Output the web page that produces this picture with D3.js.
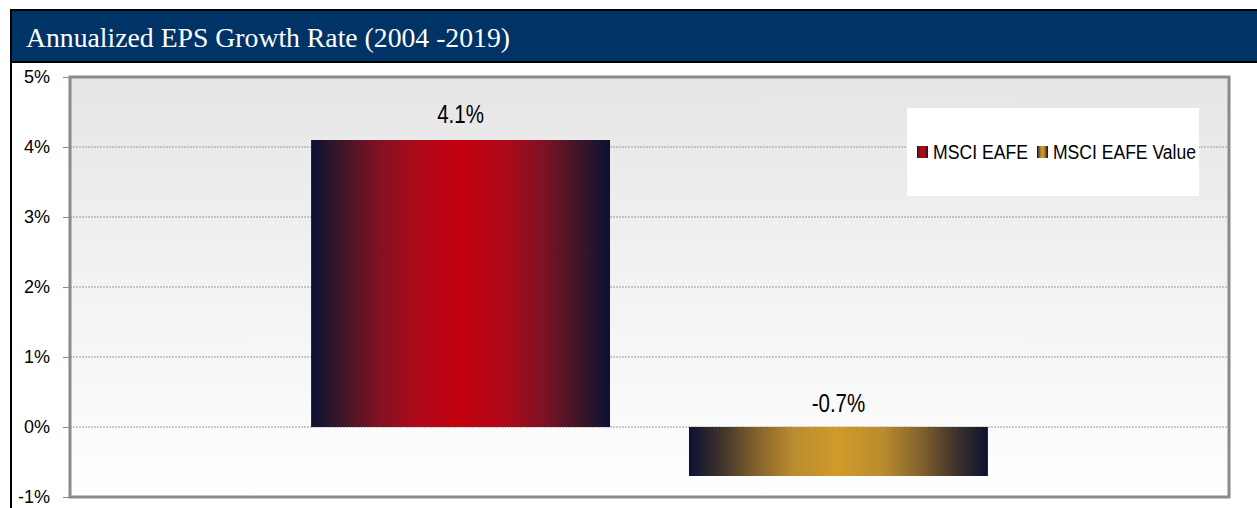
<!DOCTYPE html>
<html>
<head>
<meta charset="utf-8">
<script src="https://cdn.jsdelivr.net/npm/d3@7"></script>
<style>
  body { margin: 0; background: #fff; }
  svg { display: block; }
</style>
</head>
<body>
<svg id="chart" width="1257" height="508"></svg>
<script>
const title = "Annualized EPS Growth Rate (2004 -2019)";
const seriesNames = ["MSCI EAFE", "MSCI EAFE Value"];
const seriesValues = [4.1, -0.7];
const valueLabels = ["4.1%", "-0.7%"];
const yTicks = [-1, 0, 1, 2, 3, 4, 5];

const svg = d3.select("#chart");
const defs = svg.append("defs");

// plot area
const plot = { left: 70, right: 1229, top: 77, bottom: 497 };

// background gradient for the plot
const bg = defs.append("linearGradient").attr("id", "bgGrad")
  .attr("x1", 0).attr("y1", 0).attr("x2", 0).attr("y2", 1);
bg.append("stop").attr("offset", "0%").attr("stop-color", "#e6e6e6");
bg.append("stop").attr("offset", "100%").attr("stop-color", "#ffffff");

// bar gradients: dark edges, coloured middle
function barGradient(id, cols) {
  const g = defs.append("linearGradient").attr("id", id)
    .attr("x1", 0).attr("y1", 0).attr("x2", 1).attr("y2", 0);
  const offs = [0, 0.1, 0.22, 0.35, 0.5, 0.65, 0.78, 0.9, 1];
  const full = cols.concat(cols.slice(0, -1).reverse());
  offs.forEach((o, i) => g.append("stop").attr("offset", o).attr("stop-color", full[i]));
}
barGradient("redGrad", ["#0a1232", "#3c1628", "#7c1224", "#ae0a1a", "#c40010"]);
barGradient("goldGrad", ["#0a1232", "#3c302c", "#80602c", "#ba8c2e", "#d19a2a"]);
const fills = ["url(#redGrad)", "url(#goldGrad)"];

// title bar
svg.append("rect")
  .attr("x", 11).attr("y", 10).attr("width", 1250).attr("height", 52)
  .attr("fill", "#003366").attr("stroke", "#000").attr("stroke-width", 2);
svg.append("text")
  .attr("x", 26).attr("y", 47)
  .attr("font-family", "Liberation Serif, DejaVu Serif, serif")
  .attr("font-size", 28)
  .attr("textLength", 484).attr("lengthAdjust", "spacingAndGlyphs")
  .attr("fill", "#fff")
  .text(title);

// left black border
svg.append("line")
  .attr("x1", 11).attr("x2", 11).attr("y1", 10).attr("y2", 508)
  .attr("stroke", "#000").attr("stroke-width", 2);

const y = d3.scaleLinear().domain([-1, 5]).range([plot.bottom, plot.top]);
const x = d3.scaleBand().domain(seriesNames)
  .range([plot.left, plot.right]).paddingInner(0.209).paddingOuter(0.638);

svg.append("rect")
  .attr("x", plot.left).attr("y", plot.top)
  .attr("width", plot.right - plot.left).attr("height", plot.bottom - plot.top)
  .attr("fill", "url(#bgGrad)");

// gridlines
svg.append("g")
  .selectAll("line")
  .data(yTicks.filter(d => d > -1 && d < 5))
  .join("line")
  .attr("x1", plot.left).attr("x2", plot.right)
  .attr("y1", d => y(d)).attr("y2", d => y(d))
  .attr("stroke", "#9a9a9a").attr("stroke-width", 1)
  .attr("stroke-dasharray", "2,1");

// y axis
const yAxis = svg.append("g")
  .attr("transform", `translate(${plot.left},0)`)
  .call(d3.axisLeft(y).tickValues(yTicks).tickFormat(d => d + "%").tickSize(7).tickPadding(13));
yAxis.select(".domain").remove();
yAxis.selectAll(".tick line").attr("stroke", "#8a8a8a");
yAxis.selectAll(".tick text")
  .attr("font-family", "Liberation Sans, Arial, sans-serif")
  .attr("font-size", 18).attr("fill", "#000");

// bars
svg.append("g")
  .selectAll("rect")
  .data(seriesValues)
  .join("rect")
  .attr("x", (d, i) => x(seriesNames[i]))
  .attr("width", x.bandwidth())
  .attr("y", d => y(Math.max(0, d)))
  .attr("height", d => Math.abs(y(d) - y(0)))
  .attr("fill", (d, i) => fills[i]);

// value labels (narrow-looking, like the original)
svg.append("g")
  .selectAll("text")
  .data(seriesValues)
  .join("text")
  .attr("transform", (d, i) => {
    const cx = x(seriesNames[i]) + x.bandwidth() / 2;
    const cy = d >= 0 ? y(d) - 17 : y(0) - 15;
    return `translate(${cx},${cy}) scale(0.82,1)`;
  })
  .attr("text-anchor", "middle")
  .attr("font-family", "Liberation Sans, Arial, sans-serif")
  .attr("font-size", 25).attr("fill", "#000")
  .text((d, i) => valueLabels[i]);

// plot border
svg.append("rect")
  .attr("x", plot.left).attr("y", plot.top)
  .attr("width", plot.right - plot.left).attr("height", plot.bottom - plot.top)
  .attr("fill", "none").attr("stroke", "#8a8a8a").attr("stroke-width", 3);

// legend
const legend = svg.append("g");
legend.append("rect")
  .attr("x", 907).attr("y", 108).attr("width", 292).attr("height", 88)
  .attr("fill", "#fff");
const legendX = [917, 1037];
seriesNames.forEach((name, i) => {
  legend.append("rect")
    .attr("x", legendX[i]).attr("y", 146).attr("width", 11).attr("height", 12)
    .attr("fill", fills[i]);
  legend.append("text")
    .attr("x", legendX[i] + 16).attr("y", 159)
    .attr("font-family", "Liberation Sans, Arial, sans-serif")
    .attr("font-size", 19.5).attr("fill", "#000")
    .attr("textLength", i === 0 ? 95 : 143).attr("lengthAdjust", "spacingAndGlyphs")
    .text(name);
});
</script>
</body>
</html>
